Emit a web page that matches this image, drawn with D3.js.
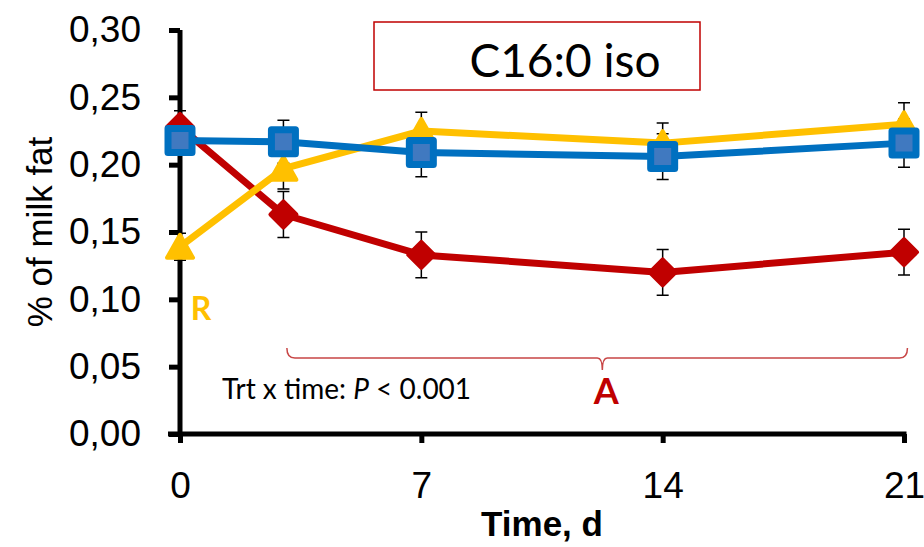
<!DOCTYPE html>
<html>
<head>
<meta charset="utf-8">
<script src="https://cdn.jsdelivr.net/npm/d3@7"></script>
<style>
  body { margin: 0; background: #fff; }
  svg { display: block; }
</style>
</head>
<body>
<div id="chart"></div>
<script>
// values
const days = [0, 3, 7, 14, 21]
const xTicks = [0, 7, 14, 21]
const yTicks = [0, 0.05, 0.10, 0.15, 0.20, 0.25, 0.30]

const redMean = [0.228, 0.163, 0.133, 0.120, 0.135]
const redSE = [0.012, 0.017, 0.017, 0.017, 0.017]
const yellowMean = [0.139, 0.197, 0.225, 0.216, 0.230]
const yellowSE = [0.010, 0.015, 0.014, 0.015, 0.016]
const blueMean = [0.218, 0.217, 0.209, 0.206, 0.216]
const blueSE = [0.010, 0.016, 0.018, 0.017, 0.018]

const W = 924, H = 547
const svg = d3.select("#chart").append("svg")
  .attr("width", W)
  .attr("height", H)

const x = d3.scaleLinear().domain([0, 21]).range([180, 904])
const y = d3.scaleLinear().domain([0, 0.30]).range([434, 30])

const comma = d3.formatLocale({ decimal: ",", thousands: ".", grouping: [3], currency: ["", ""] }).format(".2f")

// title box
svg.append("rect")
  .attr("x", 374).attr("y", 22)
  .attr("width", 326).attr("height", 68)
  .attr("fill", "#fff")
  .attr("stroke", "#c00000")
  .attr("stroke-width", 1.5)
svg.append("text")
  .attr("x", 565).attr("y", 77)
  .attr("text-anchor", "middle")
  .style("font-family", "Lato, 'Open Sans', sans-serif")
  .style("font-size", "46px")
  .text("C16:0 iso")

// axes
const yAxis = svg.append("g")
  .attr("transform", `translate(${x(0)},0)`)
  .call(d3.axisLeft(y).tickValues(yTicks).tickFormat(comma).tickSize(11).tickPadding(28))
const xAxis = svg.append("g")
  .attr("transform", `translate(0,${y(0)})`)
  .call(d3.axisBottom(x).tickValues(xTicks).tickSize(9).tickPadding(29))

;[yAxis, xAxis].forEach(g => {
  g.select(".domain").attr("stroke", "#000").attr("stroke-width", 5)
  g.selectAll(".tick line").attr("stroke", "#000").attr("stroke-width", 5)
  g.selectAll(".tick text")
    .attr("fill", "#000")
    .style("font-family", "'Liberation Sans', Arial, sans-serif")
    .style("font-size", "37px")
})
yAxis.select(".domain").attr("d", `M0,${y(0.30)}V${y(0) + 2.5}`)
xAxis.select(".domain").attr("d", `M${x(0) - 12},0H${x(21) + 2.5}`)

svg.append("text")
  .attr("transform", `translate(52,232) rotate(-90)`)
  .attr("text-anchor", "middle")
  .style("font-family", "'Liberation Sans', Arial, sans-serif")
  .style("font-size", "35px")
  .text("% of milk fat")

svg.append("text")
  .attr("x", x(10.5)).attr("y", 536)
  .attr("text-anchor", "middle")
  .style("font-family", "'Liberation Sans', Arial, sans-serif")
  .style("font-size", "35px")
  .style("font-weight", "bold")
  .text("Time, d")

// significance bracket
const bx0 = x(3.1), bx1 = x(21.1), bm = x(12.25), by = 358
svg.append("path")
  .attr("d", `M${bx0},${by - 10} Q${bx0},${by} ${bx0 + 8},${by} H${bm - 5} Q${bm},${by} ${bm},${by + 12} Q${bm},${by} ${bm + 5},${by} H${bx1 - 8} Q${bx1},${by} ${bx1},${by - 10}`)
  .attr("fill", "none")
  .attr("stroke", "#c84646")
  .attr("stroke-width", 1.5)

svg.append("text")
  .attr("x", 222).attr("y", 399)
  .style("font-family", "Lato, 'Open Sans', sans-serif")
  .style("font-size", "28px")
  .html("Trt x time: <tspan font-style='italic'>P</tspan> &lt; 0.001")

svg.append("text")
  .attr("x", bm + 4).attr("y", 404)
  .attr("text-anchor", "middle")
  .style("font-family", "Lato, 'Open Sans', sans-serif")
  .style("font-size", "36px")
  .style("font-weight", "bold")
  .attr("fill", "#c00000")
  .text("A")

svg.append("text")
  .attr("x", 201).attr("y", 320)
  .attr("text-anchor", "middle")
  .style("font-family", "Lato, 'Open Sans', sans-serif")
  .style("font-size", "32px")
  .style("font-weight", "bold")
  .attr("fill", "#ffc000")
  .text("R")

const series = [
  { mean: redMean, se: redSE, color: "#c00000", shape: "diamond" },
  { mean: yellowMean, se: yellowSE, color: "#ffc000", shape: "triangle" },
  { mean: blueMean, se: blueSE, color: "#0070c0", shape: "square" }
]

// error bars under everything
const eb = svg.append("g").attr("stroke", "#000").attr("stroke-width", 1.5)
series.forEach(s => {
  days.forEach((d, i) => {
    const cx = x(d), top = y(s.mean[i] + s.se[i]), bot = y(s.mean[i] - s.se[i])
    eb.append("path").attr("d", `M${cx},${top}V${bot}M${cx - 6},${top}H${cx + 6}M${cx - 6},${bot}H${cx + 6}`)
  })
})

const line = d3.line().x((d, i) => x(days[i])).y(d => y(d))

series.forEach(s => {
  const g = svg.append("g")
  g.append("path")
    .attr("d", line(s.mean))
    .attr("fill", "none")
    .attr("stroke", s.color)
    .attr("stroke-width", 7)
    .attr("stroke-linejoin", "round")

  const pts = g.selectAll(".pt").data(s.mean).join("g")
    .attr("transform", (d, i) => `translate(${x(days[i])},${y(d)})`)

  if (s.shape === "diamond") {
    pts.append("path")
      .attr("d", "M0,-13L13,0L0,13L-13,0Z")
      .attr("fill", s.color)
      .attr("stroke", s.color)
      .attr("stroke-width", 4)
      .attr("stroke-linejoin", "round")
  } else if (s.shape === "triangle") {
    pts.append("path")
      .attr("d", "M0,-12L13,11L-13,11Z")
      .attr("fill", s.color)
      .attr("stroke", s.color)
      .attr("stroke-width", 4)
      .attr("stroke-linejoin", "round")
  } else {
    pts.append("rect")
      .attr("x", -12).attr("y", -12)
      .attr("width", 24).attr("height", 24)
      .attr("fill", "#4079c0")
      .attr("stroke", s.color)
      .attr("stroke-width", 7)
      .attr("stroke-linejoin", "round")
  }
})
</script>
</body>
</html>
